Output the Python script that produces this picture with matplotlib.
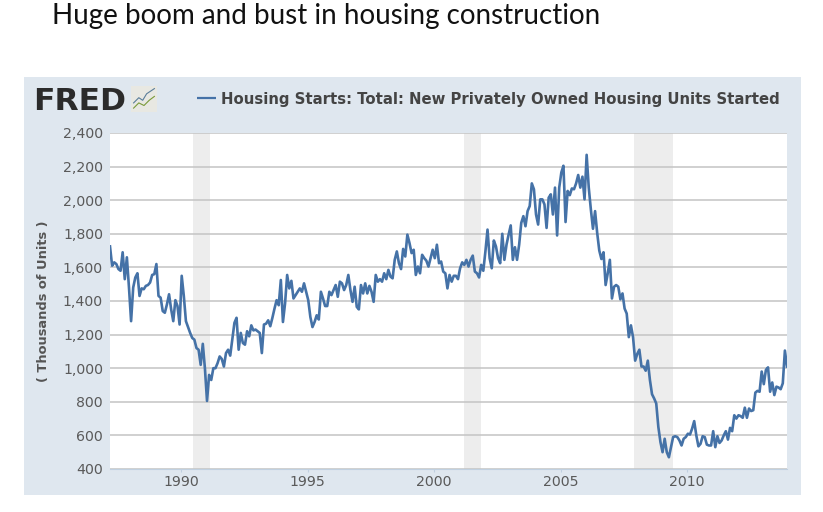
import numpy as np
import matplotlib
matplotlib.use("Agg")
import matplotlib.pyplot as plt
from matplotlib.patches import Rectangle

# Monthly housing starts, thousands of units
starts_1987_1993 = [1725, 1610, 1630, 1620, 1590, 1580, 1690, 1530, 1660, 1480, 1280,
                    1480, 1540, 1565, 1430, 1475, 1470, 1490, 1495, 1510, 1555, 1560, 1620,
                    1430, 1420, 1340, 1330, 1380, 1440, 1350, 1280, 1405, 1370, 1260, 1550,
                    1430, 1280, 1245, 1210, 1180, 1170, 1120, 1110, 1020, 1145, 1000, 805,
                    960, 930, 1000, 1000, 1030, 1070, 1055, 1010, 1090, 1110, 1075, 1170,
                    1270, 1300, 1110, 1210, 1150, 1140, 1220, 1190, 1255, 1225, 1230, 1220,
                    1210, 1090, 1260, 1265, 1285, 1250, 1300, 1355, 1405, 1375]
starts_1994_2000 = [1525, 1275, 1385, 1555, 1475, 1520, 1415, 1435, 1455, 1475, 1455, 1505,
                    1455, 1405, 1305, 1245, 1275, 1315, 1290, 1455, 1415, 1370, 1370, 1455,
                    1435, 1465, 1495, 1425, 1515, 1505, 1465, 1495, 1555, 1465, 1395, 1485,
                    1365, 1350, 1495, 1445, 1505, 1445, 1490, 1455, 1395, 1555, 1515, 1530,
                    1515, 1565, 1530, 1585, 1545, 1535, 1645, 1695, 1625, 1590, 1710, 1665,
                    1795, 1745, 1685, 1705, 1555, 1605, 1565, 1675, 1655, 1640, 1605, 1655,
                    1705, 1655, 1735]
starts_2000_2006 = [1625, 1635, 1575, 1565, 1475, 1555, 1515, 1550, 1550, 1530,
                    1595, 1630, 1615, 1645, 1605, 1645, 1670, 1575, 1565, 1540,
                    1615, 1580, 1695, 1825, 1655, 1595, 1760, 1725, 1655, 1625,
                    1800, 1645, 1735, 1795, 1850, 1645, 1720, 1645, 1735, 1865,
                    1905, 1845, 1935, 1965, 2100, 2065, 1915, 1855, 2005, 2005,
                    1975, 1835, 2015, 2035, 1915, 2075, 1790, 2075, 2165, 2205,
                    1870, 2055, 2030, 2070, 2065, 2100, 2150, 2075, 2140, 2005,
                    2270, 2075, 1945, 1830, 1935, 1805]
starts_2006_2009 = [1700, 1650, 1690, 1495, 1565, 1645, 1415, 1485, 1495, 1485, 1410, 1445,
                    1355, 1325, 1185, 1255, 1185, 1045, 1085, 1110, 1010, 1010, 985, 1045,
                    930, 845, 820, 790, 650, 560, 500, 580, 500, 470, 530, 590, 595, 590, 570]
starts_2009_2013 = [540, 580, 590, 610, 605, 640, 685, 600, 535, 550, 595, 590, 545, 540, 540,
                    625, 530, 595, 555, 570, 600, 625, 575, 645, 625, 720, 700, 720, 715, 705,
                    765, 705, 760, 745, 750, 855, 865, 860, 980, 905, 990, 1005, 860, 915, 840,
                    890, 885, 875, 910, 1105, 1010]
starts = starts_1987_1993 + starts_1994_2000 + starts_2000_2006 + starts_2006_2009 + starts_2009_2013

first_date = 1987.19
last_date = 2013.95
recessions = [(1990.47, 1991.15), (2001.17, 2001.85), (2007.92, 2009.46)]
year_ticks = [1990, 1995, 2000, 2005, 2010]
unit_ticks = [400, 600, 800, 1000, 1200, 1400, 1600, 1800, 2000, 2200, 2400]

title = "Huge boom and bust in housing construction"
legend_label = "Housing Starts: Total: New Privately Owned Housing Units Started"
y_label = "( Thousands of Units )"

W, H = 823, 512
PANEL = "#dfe7ef"
LINE = "#4572a7"
GREY_TEXT = "#5a5a5a"

fig = plt.figure(figsize=(W / 100, H / 100), dpi=100, facecolor="white")


def px_rect(x0, y0, x1, y1):
    # pixel box (top-left origin) to figure fraction
    return [x0 / W, 1 - y1 / H, (x1 - x0) / W, (y1 - y0) / H]


l, b, w, h = px_rect(24, 77, 801, 495)
fig.patches.append(Rectangle((l, b), w, h, transform=fig.transFigure, facecolor=PANEL, edgecolor="none", zorder=-5))

fig.text(52 / W, 1 - 24 / H, title, fontsize=20, family="Lato", color="#111111", va="baseline")

# FRED logo
fig.text(33 / W, 1 - 110 / H, "FRED", fontsize=22.6, family="DejaVu Sans", weight="bold",
         color="#2b2b2b", va="baseline")
icon = fig.add_axes(px_rect(131, 86, 157, 112))
icon.set_xlim(0, 1)
icon.set_ylim(0, 1)
icon.set_facecolor("#e8e8e2")
icon.set_xticks([])
icon.set_yticks([])
for s in icon.spines.values():
    s.set_visible(False)
icon.plot([0.1, 0.3, 0.45, 0.6, 0.9], [0.35, 0.55, 0.45, 0.7, 0.9], color="#5a7d9a", lw=0.8)
icon.plot([0.1, 0.3, 0.5, 0.7, 0.9], [0.15, 0.35, 0.25, 0.45, 0.6], color="#7a9a3a", lw=0.8)

# legend
fig.add_artist(plt.Line2D([197 / W, 216 / W], [1 - 98 / H, 1 - 98 / H], color=LINE, lw=1.6,
                          solid_capstyle="butt"))
fig.text(221 / W, 1 - 98 / H, legend_label, fontsize=10.7, weight="bold", family="DejaVu Sans",
         color="#444444", va="center_baseline")

ax = fig.add_axes(px_rect(110, 133, 787, 469))
ax.set_facecolor("white")

dates = np.linspace(first_date, last_date, len(starts))
for start, end in recessions:
    ax.axvspan(start, end, color="#ededed", lw=0, zorder=1)
ax.plot(dates, starts, color=LINE, lw=1.9, zorder=3, solid_joinstyle="round")

ax.set_xlim(first_date, last_date)
ax.set_ylim(400, 2400)
ax.set_yticks(unit_ticks)
ax.set_yticklabels([f"{v:,}" for v in unit_ticks])
ax.set_xticks(year_ticks)
ax.grid(axis="y", color="#c4c4c4", lw=1.1, zorder=2)
ax.set_axisbelow(False)
for side in ["top", "right", "left"]:
    ax.spines[side].set_visible(False)
ax.spines["bottom"].set_color("#c0d0e0")
ax.tick_params(axis="y", length=0, pad=5, labelsize=10.2, labelcolor=GREY_TEXT)
ax.tick_params(axis="x", length=2, color="#c0d0e0", pad=2, labelsize=10.2, labelcolor=GREY_TEXT)

fig.text(44 / W, 1 - 301 / H, y_label, rotation=90, fontsize=9.4, weight="bold", family="DejaVu Sans",
         color="#555555", ha="center", va="center")

plt.savefig("out.png", dpi=100)
